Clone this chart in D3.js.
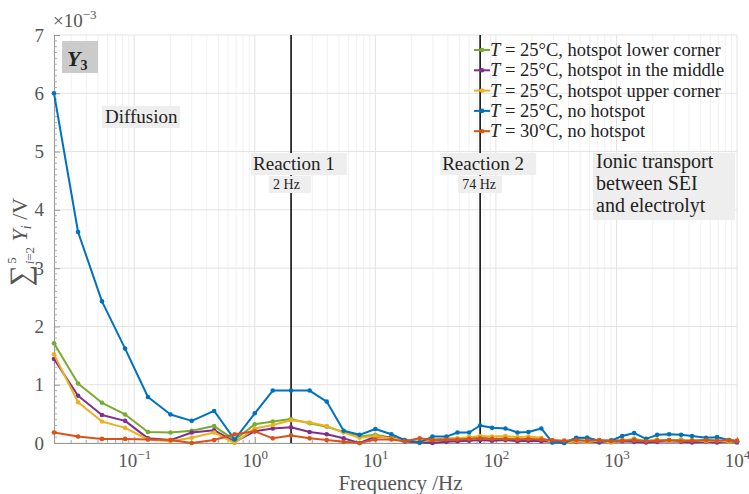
<!DOCTYPE html>
<html>
<head>
<meta charset="utf-8">
<script src="https://cdn.jsdelivr.net/npm/d3@7"></script>
<style>
  body { margin: 0; background: #fff; }
  svg { display: block; }
  text { font-family: "Liberation Serif", "DejaVu Serif", serif; }
</style>
</head>
<body>
<div id="wrapper"></div>
<script>
// frequencies in Hz
const freqs = [0.0216, 0.0342, 0.054, 0.084, 0.13, 0.2, 0.3, 0.46, 0.68, 1.0,
    1.41, 2, 2.85, 3.95, 5.46, 7.4, 10, 13.6, 17.5, 23.3,
    29.8, 38.9, 48, 60, 74, 93, 120, 151, 186, 238,
    294, 369, 464, 572, 720, 905, 1117, 1403, 1763, 2175,
    2735, 3437, 4238, 5533, 6825, 8590, 10000]

// values in 1e-3 V
const lowerCorner = [1.71, 1.02, 0.69, 0.49, 0.19, 0.18, 0.21, 0.29, 0.05, 0.32,
    0.37, 0.41, 0.34, 0.28, 0.19, 0.11, 0.14, 0.09, 0.03, 0.01,
    0.04, 0.05, 0.06, 0.08, 0.10, 0.07, 0.08, 0.06, 0.07, 0.05,
    0.02, 0.01, 0.08, 0.09, 0.03, 0.05, 0.04, 0.07, 0.03, 0.05,
    0.04, 0.06, 0.03, 0.05, 0.04, 0.03, 0.03]
const middle = [1.44, 0.81, 0.48, 0.38, 0.08, 0.05, 0.18, 0.22, 0.02, 0.20,
    0.25, 0.27, 0.19, 0.15, 0.08, 0.00, 0.11, 0.10, 0.03, 0.01,
    0.00, 0.02, 0.03, 0.04, 0.05, 0.04, 0.05, 0.03, 0.04, 0.03,
    0.02, 0.01, 0.02, 0.03, 0.01, 0.02, 0.03, 0.02, 0.01, 0.02,
    0.03, 0.02, 0.01, 0.02, 0.01, 0.02, 0.01]
const upperCorner = [1.52, 0.70, 0.37, 0.26, 0.06, 0.03, 0.09, 0.18, 0.00, 0.25,
    0.31, 0.39, 0.35, 0.29, 0.18, 0.09, 0.12, 0.08, 0.05, 0.02,
    0.06, 0.08, 0.08, 0.10, 0.12, 0.11, 0.12, 0.10, 0.11, 0.09,
    0.01, 0.00, 0.03, 0.02, 0.04, 0.01, 0.06, 0.05, 0.04, 0.06,
    0.03, 0.04, 0.05, 0.03, 0.04, 0.02, 0.03]
const noHotspot25 = [6.0, 3.62, 2.43, 1.62, 0.79, 0.49, 0.38, 0.55, 0.06, 0.51,
    0.90, 0.90, 0.90, 0.71, 0.21, 0.14, 0.24, 0.15, 0.05, 0.01,
    0.11, 0.11, 0.18, 0.18, 0.30, 0.26, 0.25, 0.18, 0.19, 0.25,
    0.01, 0.00, 0.09, 0.09, 0.04, 0.04, 0.12, 0.17, 0.07, 0.14,
    0.15, 0.14, 0.12, 0.09, 0.10, 0.05, 0.03]
const noHotspot30 = [0.18, 0.11, 0.07, 0.07, 0.06, 0.05, 0.00, 0.05, 0.15, 0.20,
    0.08, 0.13, 0.08, 0.05, 0.02, 0.00, 0.06, 0.06, 0.03, 0.08,
    0.05, 0.06, 0.06, 0.07, 0.08, 0.07, 0.07, 0.06, 0.07, 0.06,
    0.05, 0.04, 0.05, 0.04, 0.05, 0.03, 0.04, 0.05, 0.03, 0.04,
    0.05, 0.03, 0.04, 0.05, 0.04, 0.05, 0.04]

const seriesTemps = ["25", "25", "25", "25", "30"]
const seriesLabels = ["hotspot lower corner", "hotspot in the middle", "hotspot upper corner", "no hotspot", "no hotspot"]
const seriesValues = [lowerCorner, middle, upperCorner, noHotspot25, noHotspot30]
const seriesColors = ["#77AC30", "#7E2F8E", "#EDB120", "#0072BD", "#D95319"]

const yTicks = [0, 1, 2, 3, 4, 5, 6, 7]
const xTicks = [0.1, 1, 10, 100, 1000, 10000]
const reactionFreqs = [2, 74]
const reactionNames = ["Reaction 1", "Reaction 2"]
const reactionLabels = ["2 Hz", "74 Hz"]

const width = 749
const height = 494
const margin = { top: 35, right: 12, bottom: 51, left: 54 }
const boundedWidth = width - margin.left - margin.right
const boundedHeight = height - margin.top - margin.bottom

const svg = d3.select("#wrapper").append("svg")
    .attr("width", width)
    .attr("height", height)

svg.append("rect").attr("width", width).attr("height", height).attr("fill", "#fff")

const bounds = svg.append("g")
    .attr("transform", `translate(${margin.left},${margin.top})`)

const xScale = d3.scaleLog()
    .domain([freqs[0], 10000])
    .range([0, boundedWidth])

const yScale = d3.scaleLinear()
    .domain([0, 7])
    .range([boundedHeight, 0])

// grid
const minorX = []
for (let e = -2; e < 4; e++) {
    for (let m = 1; m < 10; m++) {
        const v = m * Math.pow(10, e)
        if (v >= freqs[0] && v <= 10000) minorX.push(v)
    }
}
bounds.append("g").selectAll("line")
    .data(minorX.filter(v => !xTicks.includes(v)))
    .join("line")
    .attr("x1", d => xScale(d)).attr("x2", d => xScale(d))
    .attr("y1", 0).attr("y2", boundedHeight)
    .attr("stroke", "#f1f1f1").attr("stroke-width", 1)

bounds.append("g").selectAll("line")
    .data(xTicks)
    .join("line")
    .attr("x1", d => xScale(d)).attr("x2", d => xScale(d))
    .attr("y1", 0).attr("y2", boundedHeight)
    .attr("stroke", "#e2e2e2").attr("stroke-width", 1)

bounds.append("g").selectAll("line")
    .data(yTicks)
    .join("line")
    .attr("x1", 0).attr("x2", boundedWidth)
    .attr("y1", d => yScale(d)).attr("y2", d => yScale(d))
    .attr("stroke", "#e2e2e2").attr("stroke-width", 1)

// axes
const yAxis = bounds.append("g")
    .call(d3.axisLeft(yScale).tickValues(yTicks).tickSize(-6).tickPadding(10).tickFormat(d3.format("d")))
yAxis.select(".domain").attr("stroke", "#999")
yAxis.selectAll(".tick line").attr("stroke", "#999")
yAxis.selectAll("text").attr("font-size", 19).attr("fill", "#555")
    .style("font-family", "Liberation Serif")

const yMinor = d3.range(0, 70).map(i => i / 10).filter(v => !yTicks.includes(v))
bounds.append("g").selectAll("line")
    .data(yMinor)
    .join("line")
    .attr("x1", 0).attr("x2", 3)
    .attr("y1", d => yScale(d)).attr("y2", d => yScale(d))
    .attr("stroke", "#aaa")

const xAxis = bounds.append("g")
    .attr("transform", `translate(0,${boundedHeight})`)
    .call(d3.axisBottom(xScale).tickValues(xTicks).tickSize(-6).tickPadding(11).tickFormat(""))
xAxis.select(".domain").attr("stroke", "#999")
xAxis.selectAll(".tick line").attr("stroke", "#999")
xAxis.selectAll(".tick text").each(function (d) {
    const t = d3.select(this).attr("fill", "#555").attr("font-size", 19)
        .style("font-family", "Liberation Serif")
    t.append("tspan").text("10")
    t.append("tspan").attr("font-size", 13).attr("dy", -8).text(String(Math.round(Math.log10(d))).replace("-", "−"))
})
bounds.append("g").selectAll("line")
    .data(minorX.filter(v => !xTicks.includes(v)))
    .join("line")
    .attr("x1", d => xScale(d)).attr("x2", d => xScale(d))
    .attr("y1", boundedHeight).attr("y2", boundedHeight - 3)
    .attr("stroke", "#aaa")

// reaction lines
bounds.append("g").selectAll("line")
    .data(reactionFreqs)
    .join("line")
    .attr("x1", d => xScale(d)).attr("x2", d => xScale(d))
    .attr("y1", 0).attr("y2", boundedHeight)
    .attr("stroke", "#111").attr("stroke-width", 1.6)

// data lines
const line = d3.line()
    .x((d, i) => xScale(freqs[i]))
    .y(d => yScale(d))

const seriesGroup = bounds.append("g")
seriesValues.forEach((vals, k) => {
    const g = seriesGroup.append("g")
    g.append("path")
        .attr("d", line(vals))
        .attr("fill", "none")
        .attr("stroke", seriesColors[k])
        .attr("stroke-width", 2)
        .attr("stroke-linejoin", "round")
    g.selectAll("circle")
        .data(vals)
        .join("circle")
        .attr("cx", (d, i) => xScale(freqs[i]))
        .attr("cy", d => yScale(d))
        .attr("r", 2.3)
        .attr("fill", seriesColors[k])
})

// annotation boxes
function labelBox(x, y, w, h, fill) {
    svg.append("rect").attr("x", x).attr("y", y).attr("width", w).attr("height", h).attr("fill", fill)
}

labelBox(62, 41, 36, 32, "#cbcbcb")
svg.append("text").attr("x", 67).attr("y", 66)
    .attr("font-size", 22).attr("font-style", "italic").attr("font-weight", "bold").attr("fill", "#222")
    .call(t => {
        t.append("tspan").text("Y")
        t.append("tspan").attr("font-size", 14).attr("dy", 4).attr("font-style", "normal").text("3")
    })

labelBox(102, 106, 78, 22, "#eeeeee")
svg.append("text").attr("x", 105).attr("y", 123).attr("font-size", 19).attr("fill", "#222").text("Diffusion")

reactionFreqs.forEach((f, i) => {
    const cx = margin.left + xScale(f)
    labelBox(cx - 40, 153, 96, 22, "#eeeeee")
    svg.append("text").attr("x", cx - 38).attr("y", 170).attr("font-size", 19).attr("fill", "#222").text(reactionNames[i])
    labelBox(cx - 22, 176, i === 0 ? 42 : 44, 17, "#eeeeee")
    svg.append("text").attr("x", cx - 18).attr("y", 189).attr("font-size", 14).attr("fill", "#222").text(reactionLabels[i])
})

labelBox(593, 153, 142, 67, "#eeeeee")
const ionic = ["Ionic transport", "between SEI", "and electrolyt"]
svg.append("g").selectAll("text")
    .data(ionic)
    .join("text")
    .attr("x", 596)
    .attr("y", (d, i) => 168 + i * 22)
    .attr("font-size", 20)
    .attr("fill", "#222")
    .text(d => d)

// legend
const legend = svg.append("g")
seriesValues.forEach((vals, k) => {
    const y = 50 + k * 20.3
    legend.append("line").attr("x1", 474).attr("x2", 490).attr("y1", y).attr("y2", y)
        .attr("stroke", seriesColors[k]).attr("stroke-width", 2)
    legend.append("circle").attr("cx", 482).attr("cy", y).attr("r", 2.3).attr("fill", seriesColors[k])
    const t = legend.append("text").attr("x", 490).attr("y", y + 6).attr("font-size", 18.5).attr("fill", "#222")
    t.append("tspan").attr("font-style", "italic").text("T")
    t.append("tspan").text(` = ${seriesTemps[k]}°C, ${seriesLabels[k]}`)
})

// axis labels
svg.append("text")
    .attr("x", margin.left - 1).attr("y", 27)
    .attr("font-size", 19).attr("fill", "#555")
    .call(t => {
        t.append("tspan").text("×10")
        t.append("tspan").attr("font-size", 13).attr("dy", -8).text("−3")
    })

svg.append("text")
    .attr("x", margin.left + boundedWidth / 2 + 5)
    .attr("y", 490)
    .attr("text-anchor", "middle")
    .attr("font-size", 21)
    .attr("fill", "#555")
    .text("Frequency /Hz")

svg.append("text")
    .attr("transform", "translate(27,242) rotate(-90)")
    .attr("text-anchor", "middle")
    .attr("fill", "#555")
    .attr("font-size", 22)
    .call(t => {
        t.append("tspan").attr("font-size", 30).attr("dy", 3).text("∑")
        t.append("tspan").attr("font-size", 13).attr("dy", -14).attr("dx", 1).text("5")
        t.append("tspan").attr("font-size", 13).attr("dy", 18).attr("dx", -7).attr("font-style", "italic").text("i")
        t.append("tspan").attr("font-size", 13).text("=2")
        t.append("tspan").attr("dy", -7).attr("font-style", "italic").text(" Y")
        t.append("tspan").attr("font-size", 14).attr("dy", 4).attr("font-style", "italic").text("i")
        t.append("tspan").attr("dy", -4).text(" /V")
    })
</script>
</body>
</html>
